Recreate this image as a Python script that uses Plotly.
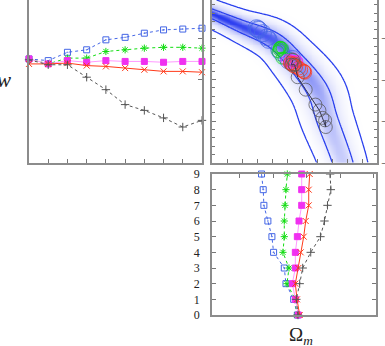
import numpy as np
import plotly.graph_objects as go

idx = list(range(10))

# w for each step (top-left panel)
w_blue = [-0.75, -0.77, -0.67, -0.64, -0.52, -0.49, -0.44, -0.40, -0.39, -0.38]
w_green = [-0.75, -0.81, -0.74, -0.74, -0.66, -0.64, -0.62, -0.61, -0.61, -0.62]
w_mag = [-0.75, -0.81, -0.77, -0.79, -0.77, -0.78, -0.78, -0.79, -0.78, -0.78]
w_red = [-0.81, -0.81, -0.80, -0.83, -0.84, -0.86, -0.88, -0.90, -0.90, -0.91]
w_black = [-0.76, -0.82, -0.82, -0.97, -1.12, -1.30, -1.37, -1.46, -1.57, -1.49]

# Omega_m for each step (bottom panel)
om_blue = [0.372, 0.361, 0.338, 0.333, 0.301, 0.296, 0.284, 0.272, 0.270, 0.265]
om_green = [0.371, 0.366, 0.341, 0.347, 0.329, 0.333, 0.333, 0.335, 0.338, 0.342]
om_mag = [0.375, 0.366, 0.357, 0.366, 0.366, 0.372, 0.377, 0.385, 0.385, 0.385]
om_red = [0.379, 0.371, 0.366, 0.375, 0.382, 0.391, 0.397, 0.406, 0.406, 0.409]
om_black = [0.374, 0.369, 0.379, 0.388, 0.412, 0.441, 0.453, 0.462, 0.472, 0.470]

# ridge of the w - Omega_m likelihood banana (top-right panel)
ridge_om = [0.100, 0.135, 0.216, 0.314, 0.377, 0.446, 0.477, 0.522, 0.537]
ridge_w = [-0.15, -0.21, -0.35, -0.52, -0.76, -1.12, -1.49, -1.99, -2.30]
ridge_in = [0.048, 0.054, 0.072, 0.096, 0.108, 0.127, 0.127, 0.120, 0.120]
ridge_out = [0.169, 0.175, 0.205, 0.265, 0.301, 0.337, 0.325, 0.295, 0.295]
ridge_amp = [1.0, 1.0, 0.97, 0.9, 0.8, 0.68, 0.58, 0.5, 0.48]

W_RANGE = [-2.0, -0.04]
OM_TR = [0.132, 0.625]
OM_BOT = [0.117, 0.607]
W_PX, H_PX = 385, 346

series = [
    ("blue", w_blue, om_blue, dict(color="#4466e6", line="#4466e6", dash="dot", symbol="square-open-dot", size=6, circ=17)),
    ("green", w_green, om_green, dict(color="#11dd11", line="#11dd11", dash="dot", symbol="asterisk-open", size=6, circ=12)),
    ("magenta", w_mag, om_mag, dict(color="#f030f0", line="#ff99ff", dash="solid", symbol="square", size=6, circ=12)),
    ("red", w_red, om_red, dict(color="#ff3a1a", line="#ff3a1a", dash="solid", symbol="x-thin-open", size=6, circ=14)),
    ("black", w_black, om_black, dict(color="#555555", line="#555555", dash="dot", symbol="cross-thin-open", size=6, circ=13)),
]


def catmull_rom(pts, n=12):
    # smooth curve through the ridge points
    p = np.vstack([pts[:1], pts, pts[-1:]])
    out = []
    for i in range(1, len(p) - 2):
        p0, p1, p2, p3 = p[i - 1], p[i], p[i + 1], p[i + 2]
        for t in np.linspace(0, 1, n, endpoint=False):
            out.append(0.5 * (2 * p1 + (-p0 + p2) * t + (2 * p0 - 5 * p1 + 4 * p2 - p3) * t ** 2
                              + (-p0 + 3 * p1 - 3 * p2 + p3) * t ** 3))
    out.append(pts[-1])
    return np.array(out)


# likelihood field: distance to ridge, scaled so both axes are in screen-like units
kx = (165 / (OM_TR[1] - OM_TR[0])) / 83.0
gx = np.linspace(OM_TR[0], OM_TR[1], 180)
gy = np.linspace(W_RANGE[0], W_RANGE[1], 180)
GX, GY = np.meshgrid(gx, gy)
P = np.stack([GX.ravel() * kx, GY.ravel()], axis=1)
raw = np.stack([np.array(ridge_om) * kx, np.array(ridge_w),
                np.array(ridge_in), np.array(ridge_out), np.array(ridge_amp)], axis=1)
R = catmull_rom(raw)
best_d = np.full(len(P), np.inf)
best_i = np.zeros(len(P), dtype=int)
best_t = np.zeros(len(P))
for i in range(len(R) - 1):
    a, b = R[i, :2], R[i + 1, :2]
    ab = b - a
    t = np.clip(((P - a) @ ab) / (ab @ ab), 0, 1)
    d = np.hypot(*(P - (a + t[:, None] * ab)).T)
    m = d < best_d
    best_d[m] = d[m]
    best_i[m] = i
    best_t[m] = t[m]
prop = R[best_i, 2:] * (1 - best_t[:, None]) + R[best_i + 1, 2:] * best_t[:, None]
w_in, w_out, amp = prop[:, 0], prop[:, 1], prop[:, 2]
q = np.where(best_d <= w_in, best_d / w_in, 1 + (best_d - w_in) / (w_out - w_in))
dens = (amp * np.exp(-0.45 * q ** 2)).reshape(GX.shape)
q = q.reshape(GX.shape)

fig = go.Figure()

# top-left: w per step
for name, wv, omv, st in series:
    fig.add_trace(go.Scatter(
        x=idx, y=wv, mode="lines+markers", xaxis="x", yaxis="y", cliponaxis=False,
        line=dict(color=st["line"], width=1, dash=st["dash"]),
        marker=dict(symbol=st["symbol"], size=st["size"], color=st["color"],
                    line=dict(color=st["color"], width=1)),
    ))

# top-right: density, contours, circles
fig.add_trace(go.Heatmap(
    x=gx, y=gy, z=dens, xaxis="x2", yaxis="y2", zmin=0, zmax=1, zsmooth="best",
    colorscale=[[0, "rgba(255,255,255,0)"], [1, "rgb(38,56,240)"]], showscale=False,
    hoverinfo="skip",
))
fig.add_trace(go.Contour(
    x=gx, y=gy, z=q, xaxis="x2", yaxis="y2", showscale=False,
    contours=dict(start=1, end=2, size=1, coloring="lines"),
    colorscale=[[0, "#2a40ee"], [1, "#2a40ee"]], line=dict(width=1.3),
    hoverinfo="skip",
))
for name, wv, omv, st in series:
    fig.add_trace(go.Scatter(
        x=omv, y=wv, xaxis="x2", yaxis="y2",
        mode="lines+markers" if name == "black" else "markers",
        line=dict(color="#303050", width=1),
        marker=dict(symbol="circle-open", size=st["circ"], color=st["color"],
                    opacity=0.75, line=dict(width=1)),
    ))

# bottom: Omega_m per step
for name, wv, omv, st in series:
    fig.add_trace(go.Scatter(
        x=omv, y=idx, mode="lines+markers", xaxis="x3", yaxis="y3", cliponaxis=False,
        line=dict(color=st["line"], width=1, dash=st["dash"]),
        marker=dict(symbol=st["symbol"], size=st["size"], color=st["color"],
                    line=dict(color=st["color"], width=1)),
    ))


def px_x(a, b):
    return [a / W_PX, b / W_PX]


def px_y(top, bot):
    return [1 - bot / H_PX, 1 - top / H_PX]


axis_common = dict(showline=True, linecolor="#8c8c8c", linewidth=1.5, showgrid=False,
                   zeroline=False, ticks="inside", ticklen=4, tickcolor="#777",
                   tickwidth=1, automargin=False)
serif = dict(family="Liberation Serif, DejaVu Serif, serif", color="#222")

fig.update_layout(
    width=W_PX, height=H_PX, margin=dict(l=0, r=0, t=0, b=0, pad=0, autoexpand=False),
    paper_bgcolor="white", plot_bgcolor="white", showlegend=False,
    xaxis=dict(domain=px_x(29, 202), range=[0, 9], dtick=1, showticklabels=False,
               anchor="y", **axis_common),
    yaxis=dict(domain=px_y(0, 162.7), range=W_RANGE, tick0=-2, dtick=0.5, side="right",
               showticklabels=False, mirror=True, anchor="x", **axis_common),
    xaxis2=dict(domain=px_x(212, 377), range=OM_TR, tick0=0.177, dtick=0.045,
                showticklabels=False, anchor="y2", **axis_common),
    yaxis2=dict(domain=px_y(0, 162.7), range=W_RANGE, tick0=-2, dtick=0.5, side="right",
                mirror="ticks", anchor="x2", tickfont=dict(size=11, **serif),
                minor=dict(dtick=0.1, tick0=-2, ticks="inside", ticklen=3, tickcolor="#777"),
                **axis_common),
    xaxis3=dict(domain=px_x(212, 376), range=OM_BOT, tick0=0.2, dtick=0.1, side="top",
                showticklabels=False, mirror=True, anchor="y3", **axis_common),
    yaxis3=dict(domain=px_y(174, 315), range=[0, 9], dtick=1, mirror="ticks",
                anchor="x3", tickfont=dict(size=12, **serif), ticklabelstandoff=8,
                **axis_common),
    annotations=[
        dict(text="<i>w</i>", x=4 / W_PX, y=1 - 80 / H_PX, xref="paper", yref="paper",
             xanchor="center", yanchor="middle", showarrow=False, font=dict(size=21, **serif)),
        dict(text="Ω<sub><i>m</i></sub>", x=301 / W_PX, y=1 - 336 / H_PX, xref="paper",
             yref="paper", xanchor="center", yanchor="middle", showarrow=False,
             font=dict(size=19, **serif)),
    ],
)

# drop the browser's default body margin so the figure sits at the page corner
fig.write_html("out.html", config={"displayModeBar": False},
               post_script="document.body.style.margin='0';")
